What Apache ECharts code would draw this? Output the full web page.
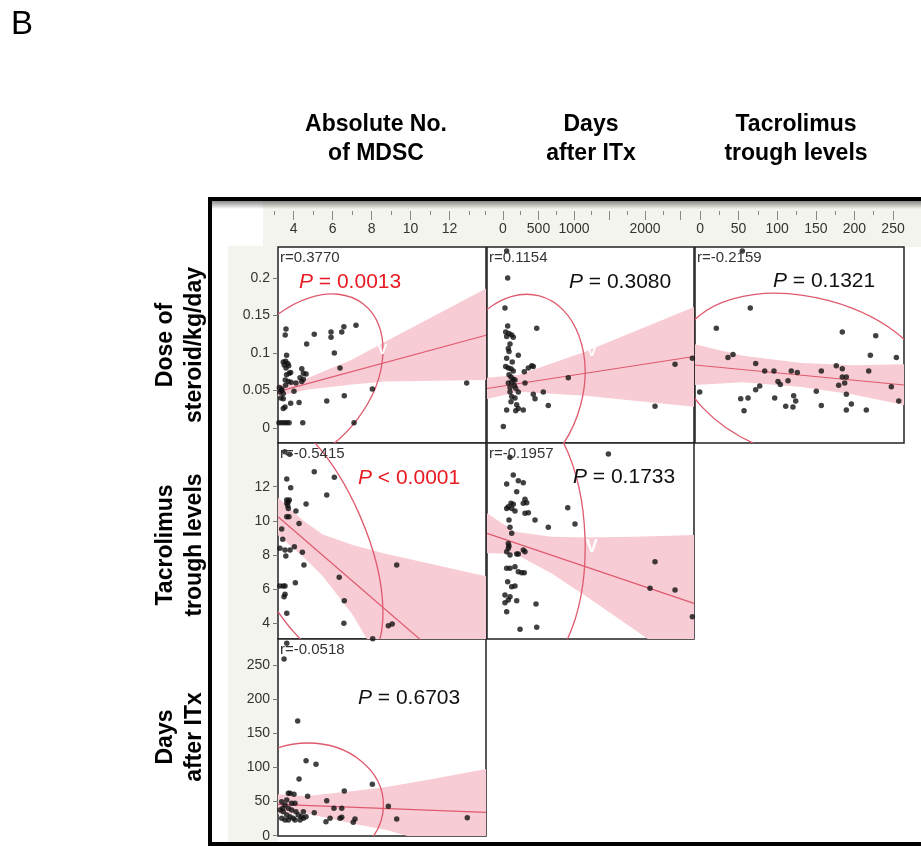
<!DOCTYPE html>
<html>
<head>
<meta charset="utf-8">
<title>Scatterplot matrix</title>
<script src="https://cdn.jsdelivr.net/npm/echarts@6/dist/echarts.min.js"></script>
<style>
html, body { margin: 0; padding: 0; background: #fff; }
#main { width: 921px; height: 846px; }
</style>
</head>
<body>
<div id="main"></div>
<script>
// ---- labels and ticks ----
const colNames = [['Absolute No.', 'of MDSC'], ['Days', 'after ITx'], ['Tacrolimus', 'trough levels']];
const rowNames = [['Dose of', 'steroid/kg/day'], ['Tacrolimus', 'trough levels'], ['Days', 'after ITx']];

const colRange = [[3.2, 13.87], [-225, 2690], [-6.5, 264.2]];
const rowRange = [[-0.02, 0.2413], [3.08, 14.56], [-0.44, 288.1]];
const rulerRange = [[3, 13], [-250, 2500], [0, 250]];

const colMajorTicks = [[4, 6, 8, 10, 12], [0, 500, 1000, 1500, 2000, 2500], [0, 50, 100, 150, 200, 250]];
const colLabels = [[4, 6, 8, 10, 12], [0, 500, 1000, 2000], [0, 50, 100, 150, 200, 250]];
const colMinorTicks = [
  [3, 4, 5, 6, 7, 8, 9, 10, 11, 12, 13],
  [-250, 0, 250, 500, 750, 1000, 1250, 1500, 1750, 2000, 2250, 2500],
  [0, 25, 50, 75, 100, 125, 150, 175, 200, 225, 250]
];
const rowTicks = [[0, 0.05, 0.1, 0.15, 0.2], [4, 6, 8, 10, 12], [0, 50, 100, 150, 200, 250]];

// ---- row 1: dose of steroid ----
const mdscSteroid = [[3.61,0.132],[3.57,0.124],[4.67,0.112],[5.06,0.125],[5.92,0.128],[5.92,0.121],[6.47,0.128],[6.58,0.135],[7.2,0.137],[6.09,0.100],[6.38,0.080],[8.04,0.052],[6.6,0.043],[5.7,0.036],[4.28,0.034],[3.85,0.033],[3.56,0.028],[3.47,0.026],[12.88,0.060],[7.1,0.007],[4.47,0.007],[3.25,0.007],[3.39,0.007],[3.52,0.007],[3.65,0.007],[3.77,0.007],[3.64,0.097],[3.47,0.088],[3.59,0.089],[3.7,0.086],[3.52,0.084],[3.75,0.083],[3.61,0.080],[3.78,0.073],[3.64,0.071],[3.85,0.074],[3.57,0.064],[3.73,0.062],[3.87,0.061],[3.59,0.057],[4.42,0.079],[4.5,0.073],[4.64,0.072],[4.33,0.067],[4.5,0.065],[4.42,0.062],[4.12,0.060],[4.02,0.049],[3.27,0.054],[3.39,0.052],[3.3,0.048],[3.47,0.046],[3.35,0.040],[3.47,0.039],[3.39,0.050]];
const fitMdscSteroid = [[3.2, 0.0484], [13.87, 0.1236]];
const upMdscSteroid = [[3.2,0.057],[4.66,0.066],[6.99,0.091],[8.7,0.115],[13.87,0.186]];
const loMdscSteroid = [[3.2,0.042],[4.66,0.051],[6.99,0.058],[8.7,0.062],[13.87,0.064]];
const ellMdscSteroid = [4.585, 0.0645, 7.564, 0.1655, 7.256, 0.0112];

const daysSteroid = [[52,0.236],[66,0.200],[28,0.160],[66,0.136],[475,0.133],[38,0.128],[85,0.126],[52,0.122],[123,0.124],[145,0.121],[99,0.112],[75,0.106],[85,0.102],[216,0.097],[52,0.093],[38,0.082],[75,0.080],[113,0.079],[145,0.076],[300,0.075],[357,0.080],[405,0.083],[427,0.082],[85,0.071],[113,0.068],[145,0.065],[169,0.064],[123,0.061],[75,0.060],[159,0.057],[99,0.054],[310,0.060],[920,0.067],[427,0.045],[568,0.048],[451,0.039],[99,0.048],[123,0.042],[169,0.040],[113,0.035],[193,0.031],[216,0.026],[286,0.024],[52,0.024],[179,0.023],[638,0.030],[5,0.002],[2141,0.029],[2423,0.085],[2667,0.093],[131,0.088],[179,0.053],[216,0.048]];
const fitDaysSteroid = [[-225, 0.0527], [2690, 0.0953]];
const upDaysSteroid = [[-225,0.0671],[216,0.0707],[1155,0.1018],[2690,0.1613]];
const loDaysSteroid = [[-225,0.0387],[216,0.0484],[1155,0.0431],[2690,0.0284]];
const ellDaysSteroid = [169.4, 0.0539, 513, 0.1761, 1093, 0.0305];

const tacSteroid = [[54.8,0.236],[65.1,0.160],[21.1,0.133],[184.3,0.128],[227.6,0.123],[220.6,0.097],[254.3,0.094],[36.2,0.094],[42.7,0.098],[72.1,0.086],[83.8,0.076],[95.8,0.076],[118.2,0.076],[126,0.074],[157.1,0.076],[176.5,0.083],[184.3,0.079],[218.5,0.076],[184.3,0.068],[189.5,0.068],[179.6,0.057],[187.4,0.060],[114,0.063],[101,0.062],[104,0.058],[77.3,0.056],[72.1,0.051],[-0.4,0.048],[150.6,0.049],[247.8,0.055],[52.7,0.039],[62.2,0.040],[96.7,0.040],[121.3,0.043],[123.9,0.036],[111,0.029],[120.4,0.028],[157.1,0.030],[196,0.032],[189.5,0.024],[215.4,0.024],[257.4,0.036],[57,0.023],[189.5,0.045]];
const fitTacSteroid = [[-6.5, 0.084], [264.2, 0.0573]];
const upTacSteroid = [[-6.5,0.1116],[55.7,0.0964],[131.7,0.0865],[198.2,0.0835],[264.2,0.0849]];
const loTacSteroid = [[-6.5,0.0573],[55.7,0.0609],[131.7,0.0548],[198.2,0.0445],[264.2,0.0307]];
const ellTacSteroid = [139.9, 0.0667, 304.9, 0.0205, 112.7, -0.0363];

// ---- row 2: tacrolimus trough levels ----
const mdscTac = [[3.55,14.05],[3.8,13.9],[5.06,12.88],[6.09,12.55],[5.70,11.51],[3.65,12.45],[3.85,11.94],[3.65,11.22],[3.73,11.12],[3.65,11.03],[3.78,11.22],[3.70,10.89],[3.73,10.73],[4.64,10.98],[4.12,10.57],[3.65,10.24],[3.76,10.24],[4.28,9.85],[3.39,9.52],[3.44,8.92],[3.3,8.39],[3.56,8.29],[3.82,8.29],[4.04,8.48],[3.6,7.94],[4.45,8.16],[4.53,7.41],[9.29,7.41],[6.34,6.69],[4.09,6.38],[3.3,6.18],[3.47,6.18],[3.56,6.18],[3.56,5.7],[3.51,5.56],[6.6,5.32],[3.65,4.59],[6.58,4.0],[8.86,3.86],[9.06,3.96],[8.06,3.1]];
const fitMdscTac = [[3.2, 10.24], [13.87, -0.28]];
const upMdscTac = [[3.2,11.35],[4.5,10.0],[5.5,9.2],[7.0,8.6],[8.6,8.1],[13.87,6.75]];
const loMdscTac = [[3.2,9.15],[4.5,7.9],[5.5,6.75],[7.0,4.55],[7.75,3.1],[8.6,1.7],[13.87,-7.2]];
const ellMdscTac = [4.595, 8.97, 7.451, 1.541, 7.379, 10.364];

const daysTac = [[1484,13.91],[99,13.72],[145,12.68],[216,12.35],[286,12.23],[52,12.16],[193,11.70],[310,11.26],[334,11.06],[286,11.03],[113,11.03],[145,10.97],[75,10.83],[52,10.73],[123,10.73],[169,10.57],[310,10.44],[357,10.48],[912,10.77],[451,10.05],[85,10.05],[1014,9.81],[638,9.62],[99,9.62],[123,9.27],[75,8.68],[85,8.53],[75,8.39],[52,8.19],[99,8.0],[193,8.06],[216,8.06],[310,8.19],[286,8.29],[52,7.22],[99,7.22],[169,7.31],[216,7.02],[264,6.96],[300,6.96],[66,6.44],[123,6.14],[169,6.18],[28,5.66],[99,5.56],[75,5.36],[193,5.32],[28,5.21],[52,4.68],[465,5.13],[240,3.65],[475,3.77],[2141,7.61],[2071,6.05],[2423,5.95],[2667,4.39]];
const fitDaysTac = [[-225, 9.27], [2690, 5.17]];
const upDaysTac = [[-225,10.44],[169,9.36],[686,9.07],[1155,9.03],[1859,9.07],[2690,9.17]];
const loDaysTac = [[-225,8.1],[169,8.07],[686,6.91],[1155,5.63],[1859,3.61],[2690,1.17]];
const ellDaysTac = [169.4, 8.877, 234, 0.593, 1155, 9.01];

// ---- row 3: days after ITx ----
const mdscDays = [[3.65,281.8],[3.51,258.8],[4.21,168],[4.64,109.9],[5.15,104.6],[4.28,83],[8.04,75.3],[6.6,65.5],[4.72,57.7],[3.73,62],[4.02,60.6],[5.7,51.3],[8.86,43.1],[6.07,40.1],[6.47,40.1],[5.06,33.7],[6.38,25.4],[6.47,27],[5.87,25.5],[5.66,20.5],[7.15,24.5],[7.06,19.6],[9.29,24.5],[12.91,26.4],[3.39,49.8],[3.56,45],[3.73,40.1],[3.9,37.6],[3.47,35.2],[3.65,30.3],[3.82,27.8],[3.98,25.5],[3.39,25.5],[3.56,23],[4.24,30.3],[4.41,27.8],[4.5,25.5],[4.64,27.8],[4.33,23],[4.07,23],[3.73,23],[3.3,37.6],[3.44,40.1],[3.9,47.5],[4.12,35.2],[4.5,35.2],[3.65,52.3],[4.07,47.5],[3.82,62.1]];
const fitMdscDays = [[3.2, 46], [13.87, 34.3]];
const upMdscDays = [[3.2,60.6],[4.58,57.7],[7.06,65.5],[8.77,71.3],[11.34,84.1],[13.87,97.7]];
const loMdscDays = [[3.2,31.3],[4.58,33.2],[7.06,17.6],[8.77,8.3],[9.8,0],[13.87,-29]];
const ellMdscDays = [4.74, 45, 8.61, 45, 4.74, 135.8];

// correlation texts
const rTexts = ['r=0.3770', 'r=0.1154', 'r=-0.2159', 'r=-0.5415', 'r=-0.1957', 'r=-0.0518'];
const pTexts = [' = 0.0013', ' = 0.3080', ' = 0.1321', ' < 0.0001', ' = 0.1733', ' = 0.6703'];
const pRed = [true, false, false, true, false, false];
// white "V" marks on the ellipses: [panel, x, y]
const vMarks = [[0, 8.55, 0.104], [1, 1250, 0.101], [4, 1250, 8.48]];

// ---- layout ----
const FONT = '"Liberation Sans", Arial, Helvetica, sans-serif';
const BEIGE = '#f4f4ee';
const PINK = '#f8ccd4';
const RED_LINE = '#df5a6e';
const colLeft = [278, 487, 695], colWidth = [208, 207, 209];
const rowTop = [247, 443, 639], rowHeight = [196, 196, 197];
const pPos = [[21, 35], [82, 35], [78, 34], [80, 35], [86, 34], [80, 59]];

const panels = [
  { row: 0, col: 0, pts: mdscSteroid, fit: fitMdscSteroid, up: upMdscSteroid, lo: loMdscSteroid, ell: ellMdscSteroid },
  { row: 0, col: 1, pts: daysSteroid, fit: fitDaysSteroid, up: upDaysSteroid, lo: loDaysSteroid, ell: ellDaysSteroid },
  { row: 0, col: 2, pts: tacSteroid, fit: fitTacSteroid, up: upTacSteroid, lo: loTacSteroid, ell: ellTacSteroid },
  { row: 1, col: 0, pts: mdscTac, fit: fitMdscTac, up: upMdscTac, lo: loMdscTac, ell: ellMdscTac },
  { row: 1, col: 1, pts: daysTac, fit: fitDaysTac, up: upDaysTac, lo: loDaysTac, ell: ellDaysTac },
  { row: 2, col: 0, pts: mdscDays, fit: fitMdscDays, up: upMdscDays, lo: loMdscDays, ell: ellMdscDays }
];

const grid = [], xAxis = [], yAxis = [], series = [], graphics = [];

panels.forEach(function (p, i) {
  grid.push({
    left: colLeft[p.col], top: rowTop[p.row], width: colWidth[p.col], height: rowHeight[p.row],
    show: true, backgroundColor: '#fff', borderColor: '#222', borderWidth: 1.5
  });
  xAxis.push({ gridIndex: i, type: 'value', min: colRange[p.col][0], max: colRange[p.col][1], show: false });
  yAxis.push({
    gridIndex: i, type: 'value', min: rowRange[p.row][0], max: rowRange[p.row][1], show: p.col === 0,
    axisLine: { show: false },
    axisTick: { show: true, length: 5, customValues: rowTicks[p.row], lineStyle: { color: '#777' } },
    axisLabel: { customValues: rowTicks[p.row], margin: 8, fontSize: 14, color: '#333', fontFamily: FONT,
      formatter: function (v) { return String(v); } },
    splitLine: { show: false }
  });

  // confidence band
  series.push({
    type: 'custom', xAxisIndex: i, yAxisIndex: i, clip: true, z: 1, silent: true,
    data: [p.up[0]],
    renderItem: function (params, api) {
      const pts = p.up.map(function (d) { return api.coord(d); })
        .concat(p.lo.slice().reverse().map(function (d) { return api.coord(d); }));
      return { type: 'polygon', shape: { points: pts }, style: { fill: PINK } };
    }
  });
  // fit line
  series.push({
    type: 'line', xAxisIndex: i, yAxisIndex: i, data: p.fit, symbol: 'none', z: 3, silent: true,
    lineStyle: { color: RED_LINE, width: 1.2 }
  });
  // density ellipse
  series.push({
    type: 'custom', xAxisIndex: i, yAxisIndex: i, clip: true, z: 4, silent: true,
    data: [p.ell],
    renderItem: function (params, api) {
      const c = api.coord([api.value(0), api.value(1)]);
      const a = api.coord([api.value(2), api.value(3)]);
      const b = api.coord([api.value(4), api.value(5)]);
      const rx = Math.hypot(a[0] - c[0], a[1] - c[1]);
      const ry = Math.hypot(b[0] - c[0], b[1] - c[1]);
      return {
        type: 'ellipse', x: c[0], y: c[1], rotation: -Math.atan2(a[1] - c[1], a[0] - c[0]),
        shape: { cx: 0, cy: 0, rx: rx, ry: ry },
        style: { fill: 'none', stroke: RED_LINE, lineWidth: 1.3 }
      };
    }
  });
  // points
  series.push({
    type: 'scatter', xAxisIndex: i, yAxisIndex: i, data: p.pts, symbolSize: 5.5, z: 6, silent: true,
    itemStyle: { color: '#111' }
  });

  // r and P texts
  const gx = colLeft[p.col], gy = rowTop[p.row];
  graphics.push({ type: 'text', x: gx + 2, y: gy + 11, z: 20,
    style: { text: rTexts[i], font: '15px ' + FONT, fill: '#333', verticalAlign: 'middle' } });
  const pc = pRed[i] ? '#ea1a22' : '#111';
  graphics.push({ type: 'text', x: gx + pPos[i][0], y: gy + pPos[i][1], z: 20,
    style: {
      text: '{i|P}{n|' + pTexts[i] + '}', verticalAlign: 'middle',
      rich: {
        i: { fontStyle: 'italic', fontSize: 21, fontFamily: FONT, fill: pc },
        n: { fontSize: 21, fontFamily: FONT, fill: pc }
      }
    } });
});

// V marks
vMarks.forEach(function (m) {
  series.push({
    type: 'custom', xAxisIndex: m[0], yAxisIndex: m[0], z: 5, silent: true,
    data: [[m[1], m[2]]],
    renderItem: function (params, api) {
      const c = api.coord([api.value(0), api.value(1)]);
      return { type: 'text', x: c[0], y: c[1],
        style: { text: 'V', fill: '#fff', font: 'bold ' + (m[0] === 4 ? 18 : 15) + 'px ' + FONT,
          align: 'center', verticalAlign: 'middle' } };
    }
  });
});

// top rulers (one per column)
for (let c = 0; c < 3; c++) {
  const gi = grid.length;
  const span = colRange[c][1] - colRange[c][0];
  const left = colLeft[c] + (rulerRange[c][0] - colRange[c][0]) / span * colWidth[c];
  const width = (rulerRange[c][1] - rulerRange[c][0]) / span * colWidth[c];
  grid.push({ left: left, top: 211, width: width, height: 1, show: false });
  xAxis.push({
    gridIndex: gi, type: 'value', min: rulerRange[c][0], max: rulerRange[c][1], position: 'bottom',
    axisLine: { show: false }, splitLine: { show: false },
    axisTick: { show: true, length: 8, customValues: colMajorTicks[c], lineStyle: { color: '#888' } },
    axisLabel: { show: true, customValues: colLabels[c], margin: 10, fontSize: 14, color: '#333', fontFamily: FONT,
      formatter: function (v) { return String(v); } }
  });
  xAxis.push({
    gridIndex: gi, type: 'value', min: rulerRange[c][0], max: rulerRange[c][1], position: 'top',
    axisLine: { show: false }, splitLine: { show: false }, axisLabel: { show: false },
    axisTick: { show: true, inside: true, length: 4, customValues: colMinorTicks[c], lineStyle: { color: '#888' } }
  });
  yAxis.push({ gridIndex: gi, type: 'value', min: 0, max: 1, show: false });
}

// backgrounds and frame
graphics.push({ type: 'rect', z: -10, shape: { x: 263, y: 201, width: 700, height: 46 }, style: { fill: BEIGE } });
graphics.push({ type: 'rect', z: -10, shape: { x: 228, y: 246, width: 50, height: 596 }, style: { fill: BEIGE } });
graphics.push({ type: 'rect', z: -9, shape: { x: 212, y: 201, width: 720, height: 8 },
  style: { fill: new echarts.graphic.LinearGradient(0, 0, 0, 1, [
    { offset: 0, color: 'rgba(0,0,0,0.45)' }, { offset: 1, color: 'rgba(0,0,0,0)' }]) } });
graphics.push({ type: 'rect', z: 30, shape: { x: 210, y: 199, width: 800, height: 645 },
  style: { fill: 'none', stroke: '#000', lineWidth: 4 } });

// headers
const headerX = [376, 591, 796];
colNames.forEach(function (n, c) {
  graphics.push({ type: 'text', x: headerX[c], y: 139, z: 20,
    style: { text: n.join('\n'), font: 'bold 23px ' + FONT, fill: '#000', align: 'center',
      verticalAlign: 'middle', lineHeight: 29 } });
});
const rowLabelY = [345, 545, 737];
rowNames.forEach(function (n, r) {
  graphics.push({ type: 'text', x: 180, y: rowLabelY[r], rotation: Math.PI / 2, z: 20,
    style: { text: n.join('\n'), font: 'bold 23px ' + FONT, fill: '#000', align: 'center',
      verticalAlign: 'middle', lineHeight: 29 } });
});
graphics.push({ type: 'text', x: 11, y: 25, z: 20,
  style: { text: 'B', font: '33px ' + FONT, fill: '#000', verticalAlign: 'middle' } });

const chart = echarts.init(document.getElementById('main'));
chart.setOption({
  animation: false,
  backgroundColor: '#fff',
  grid: grid,
  xAxis: xAxis,
  yAxis: yAxis,
  series: series,
  graphic: { elements: graphics }
});
</script>
</body>
</html>
